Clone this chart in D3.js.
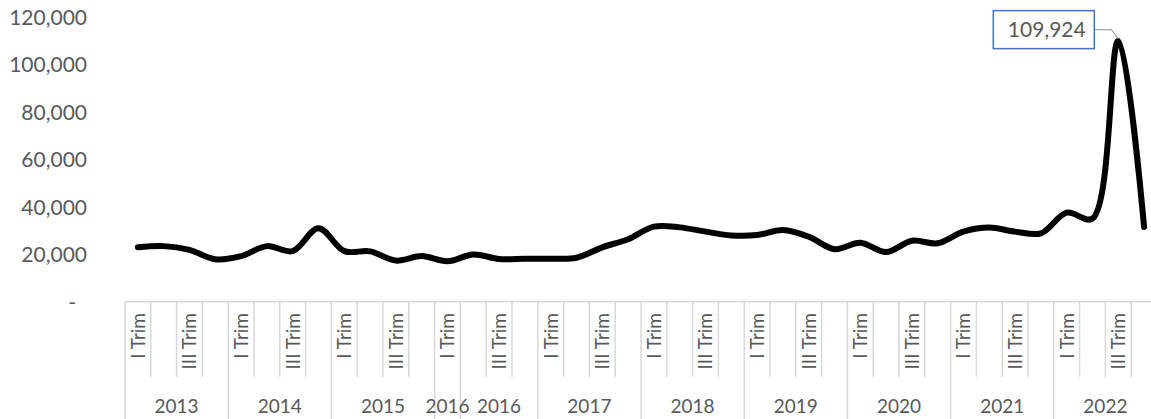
<!DOCTYPE html>
<html>
<head>
<meta charset="utf-8">
<script src="https://cdn.jsdelivr.net/npm/d3@7"></script>
<style>
    body { margin: 0; background: #fff; }
    .axisText { font-family: Lato, "Open Sans", sans-serif; fill: #595959; }
</style>
</head>
<body>
<script>
(function() {

    //Pseudo-global variables
    var yearLabels = ["2013","2014","2015","2016","2016","2017","2018","2019","2020","2021","2022"];
    var yearSizes = [4, 4, 4, 1, 3, 4, 4, 4, 4, 4, 4];
    var quarterNames = ["I Trim","II Trim","III Trim","IV Trim"];
    var values = [
        22900, 23400, 21800, 17900,   // 2013
        19200, 23400, 21300, 30900,   // 2014
        21300, 21200, 17300, 19200,   // 2015
        17000,                        // 2016
        19900, 18000, 18100,          // 2016
        18100, 18500, 22900, 26300,   // 2017
        31600, 31300, 29500, 27900,   // 2018
        28100, 30200, 27400, 22100,   // 2019
        24800, 20900, 25700, 24600,   // 2020
        29500, 31200, 29500, 28800,   // 2021
        37500, 35000, 109924, 31500   // 2022
    ];
    var yTicks = [0, 20000, 40000, 60000, 80000, 100000, 120000];

    window.onload = setChart();

    function setChart(){
        var width = 1151,
            height = 419,
            plotLeft = 125,
            plotRight = 1157,
            plotTop = 16.7,
            plotBottom = 301.7;

        //build category list (quarters inside year groups)
        var categories = [];
        yearSizes.forEach(function(n, g) {
            var start = g == 4 ? 1 : 0; // second 2016 group starts at II Trim
            for (var q = 0; q < n; q++) {
                categories.push({ year: yearLabels[g], group: g, quarter: quarterNames[start + q] });
            }
        });

        var svg = d3.select("body")
            .append("svg")
            .attr("width", width)
            .attr("height", height);

        var x = d3.scaleBand()
            .domain(d3.range(categories.length))
            .range([plotLeft, plotRight])
            .padding(0);

        var y = d3.scaleLinear()
            .domain([0, 120000])
            .range([plotBottom, plotTop]);

        //y axis, labels only
        var yAxis = d3.axisLeft(y)
            .tickValues(yTicks)
            .tickSize(0)
            .tickPadding(0)
            .tickFormat(function(d) { return d == 0 ? "-" : d3.format(",")(d); });

        var yAxisG = svg.append("g")
            .attr("transform", "translate(87,0)")
            .call(yAxis);
        yAxisG.select(".domain").remove();
        yAxisG.selectAll("text")
            .attr("class", "axisText")
            .style("font-size", "21px")
            .attr("dx", function(d) { return d == 0 ? -11 : 0; })
            .attr("dy", "0.35em");

        //category axis frame
        var bw = x.bandwidth();
        var axisG = svg.append("g");

        axisG.append("line")
            .attr("x1", plotLeft)
            .attr("x2", plotRight)
            .attr("y1", plotBottom)
            .attr("y2", plotBottom)
            .style("stroke", "#d9d9d9")
            .style("stroke-width", 1.5);

        //vertical separators; long ones where a year group starts
        var boundaries = d3.range(categories.length + 1);
        axisG.selectAll(".sep")
            .data(boundaries)
            .enter()
            .append("line")
            .attr("class", "sep")
            .attr("x1", function(i) { return plotLeft + i * bw; })
            .attr("x2", function(i) { return plotLeft + i * bw; })
            .attr("y1", plotBottom)
            .attr("y2", function(i) {
                var isGroupEdge = i == 0 || i == categories.length || categories[i].group != categories[i - 1].group;
                return isGroupEdge ? height : 377;
            })
            .style("stroke", "#d9d9d9")
            .style("stroke-width", 1.5);

        //quarter labels, every second one shown
        axisG.selectAll(".quarter")
            .data(categories)
            .enter()
            .filter(function(d, i) { return i % 2 == 0; })
            .append("text")
            .attr("class", "quarter axisText")
            .attr("text-anchor", "end")
            .attr("dy", "0.36em")
            .attr("transform", function(d) {
                var i = categories.indexOf(d);
                return "translate(" + (x(i) + bw / 2) + ",313) rotate(-90)";
            })
            .style("font-size", "19px")
            .text(function(d) { return d.quarter; });

        //year group labels
        var groupStart = 0;
        var groups = yearLabels.map(function(label, g) {
            var obj = { label: label, start: groupStart, size: yearSizes[g] };
            groupStart += yearSizes[g];
            return obj;
        });

        axisG.selectAll(".year")
            .data(groups)
            .enter()
            .append("text")
            .attr("class", "year axisText")
            .attr("text-anchor", "middle")
            .attr("x", function(d) { return plotLeft + (d.start + d.size / 2) * bw; })
            .attr("y", 413)
            .style("font-size", "19px")
            .text(function(d) { return d.label; });

        //smoothed line
        var line = d3.line()
            .x(function(d, i) { return x(i) + bw / 2; })
            .y(function(d) { return y(d); })
            .curve(d3.curveCatmullRom.alpha(0.5));

        svg.append("path")
            .datum(values)
            .attr("d", line)
            .style("fill", "none")
            .style("stroke", "#000")
            .style("stroke-width", 6)
            .style("stroke-linecap", "round")
            .style("stroke-linejoin", "round");

        //data label for the peak
        var peakIndex = d3.maxIndex(values);
        var px = x(peakIndex) + bw / 2,
            py = y(values[peakIndex]);
        var boxW = 101, boxH = 38;
        var boxRight = px - 24,
            boxMid = py - 11;

        svg.append("polyline")
            .attr("points", [[boxRight, boxMid], [px - 7, boxMid], [px, py - 2]].join(" "))
            .style("fill", "none")
            .style("stroke", "#a6a6a6")
            .style("stroke-width", 1.2);

        svg.append("rect")
            .attr("x", boxRight - boxW)
            .attr("y", boxMid - boxH / 2)
            .attr("width", boxW)
            .attr("height", boxH)
            .style("fill", "#fff")
            .style("stroke", "#4472c4")
            .style("stroke-width", 1.5);

        svg.append("text")
            .attr("class", "axisText")
            .attr("x", boxRight - boxW / 2 + 3)
            .attr("y", boxMid)
            .attr("dy", "0.35em")
            .attr("text-anchor", "middle")
            .style("font-size", "21px")
            .text(d3.format(",")(values[peakIndex]));
    };

})();
</script>
</body>
</html>
